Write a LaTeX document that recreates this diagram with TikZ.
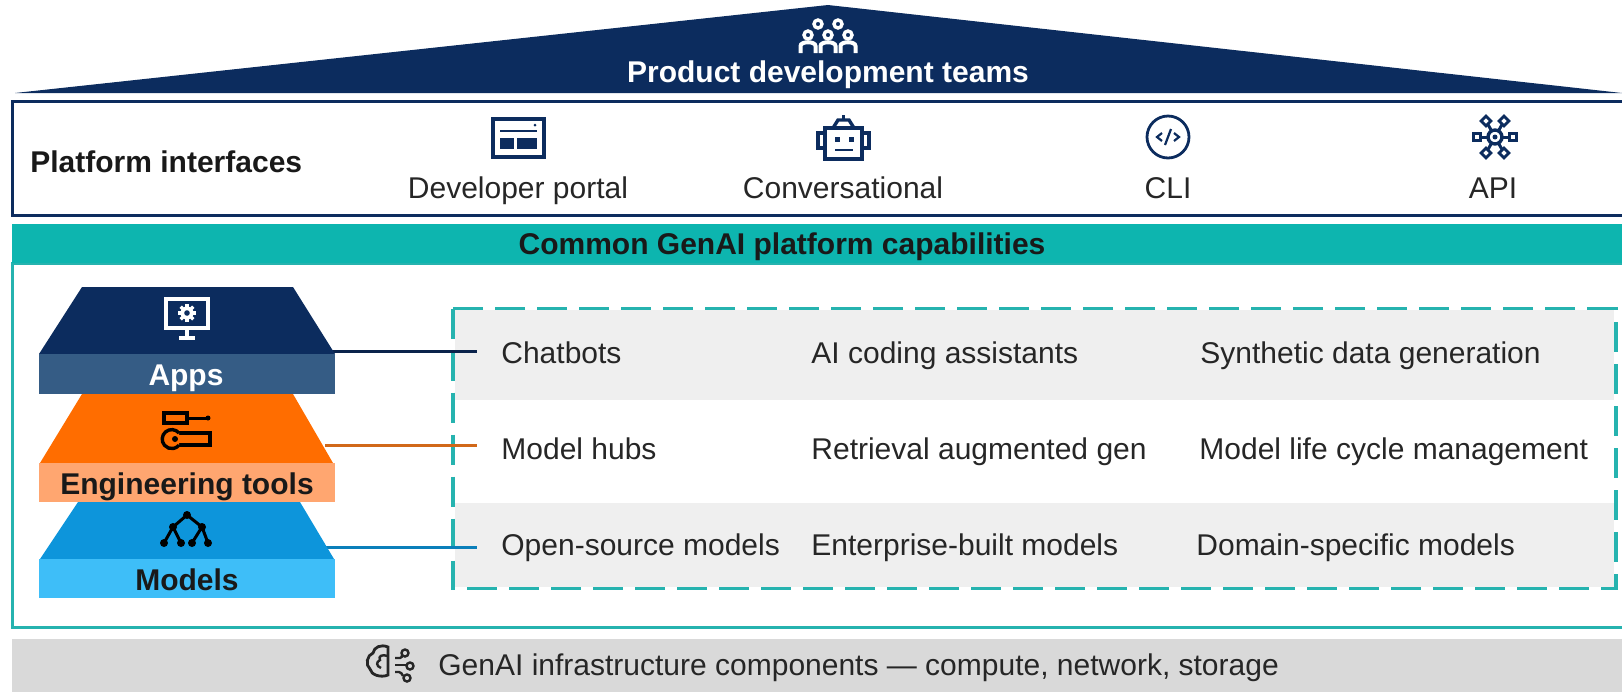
\documentclass[tikz,border=0pt]{standalone}
\usepackage{fontspec}
\setmainfont{Liberation Sans}
\usetikzlibrary{calc}
\definecolor{Navy}{HTML}{0C2C5E}
\definecolor{AppsBand}{HTML}{355C85}
\definecolor{Tools}{HTML}{FF6D00}
\definecolor{ToolsBand}{HTML}{FFA670}
\definecolor{Models}{HTML}{0D95DB}
\definecolor{ModelsBand}{HTML}{3EBEF8}
\definecolor{TealBar}{HTML}{0DB5AF}
\definecolor{TealLine}{HTML}{26B3AF}
\definecolor{RowGrey}{HTML}{EFEFEF}
\definecolor{InfraGrey}{HTML}{D9D9D9}
\definecolor{Ink}{HTML}{262626}
\def\RightEdge{1630}
\def\BoxLeft{12}
\def\RowLeft{455}
\def\RowRight{1614}
\def\ColA{501}
\def\ColB{811}
\def\ColC{1199}
\tikzset{
  body/.style={font=\fontsize{15pt}{18pt}\selectfont, text=Ink, inner sep=0pt, anchor=mid, yshift=-2.5pt},
  bodyleft/.style={body, anchor=mid west},
  head/.style={font=\fontsize{15pt}{18pt}\selectfont\bfseries, text=black!90, inner sep=0pt, anchor=mid, yshift=-2.5pt},
  icon/.style={Navy, line width=1.7pt},
  link/.style={line width=1.5pt}
}

\begin{document}
\begin{tikzpicture}[x=0.5pt,y=-0.5pt]
  \useasboundingbox (0,0) rectangle (1622,692);
  % roof
  \fill [Navy] (15,93) -- (828,5) -- (1622,93) -- cycle;
  \foreach \Hx/\Hy in {818/24,838/24,808/35,828/35,848/35} {
    \draw [white, line width=1.7pt, fill=Navy] (\Hx,\Hy) circle (4);
  }
  \foreach \Hx in {808,828,848} {
    \draw [white, line width=2pt] (\Hx-7.5,53) -- (\Hx-7.5,46) .. controls (\Hx-7.5,41) and (\Hx+7.5,41) .. (\Hx+7.5,46) -- (\Hx+7.5,53);
  }
  \node [head, text=white] (Teams) at (828,72) {Product development teams};
  % platform interfaces
  \draw [Navy, line width=1.5pt] (\BoxLeft,101) rectangle (\RightEdge,215);
  \node [head, anchor=mid west] (Interfaces) at (30,162) {Platform interfaces};
  \node [body] (Portal) at (518,188) {Developer portal};
  \node [body] (Chat) at (843,188) {Conversational};
  \node [body] (Cli) at (1168,188) {CLI};
  \node [body] (Api) at (1493,188) {API};
  % portal icon
  \draw [icon] (493,119) rectangle (544,157);
  \draw [Navy, line width=0.8pt] (500,131) -- (537,131);
  \fill [Navy] (535,125) circle (1.5);
  \fill [Navy] (500,138) rectangle (514,149);
  \fill [Navy] (517,138) rectangle (537,149);
  % robot icon
  \draw [icon] (825,128) rectangle (862,159);
  \draw [icon] (825,133) -- (818,133) -- (818,148) -- (825,148);
  \draw [icon] (862,133) -- (869,133) -- (869,148) -- (862,148);
  \draw [icon] (833,128) -- (838,120) -- (849,120) -- (854,128);
  \draw [icon] (843.5,120) -- (843.5,115);
  \fill [Navy] (834.5,136.5) rectangle +(5,5);
  \fill [Navy] (848.5,136.5) rectangle +(5,5);
  \draw [Navy, line width=0.8pt] (835,150) -- (853,150);
  % cli icon
  \draw [icon, line width=1.4pt] (1168,137) circle (21);
  \draw [Navy, line width=1.1pt] (1162,133) -- (1157,137) -- (1162,141);
  \draw [Navy, line width=1.1pt] (1174,133) -- (1179,137) -- (1174,141);
  \draw [Navy, line width=1.1pt] (1171,129) -- (1165,145);
  % api icon
  \foreach \Dx/\Dy/\Rot in {-9/-16/45,9/-16/45,-18/0/0,18/0/0,-9/16/45,9/16/45} {
    \draw [Navy, line width=1.5pt] (1495,137) -- +(\Dx,\Dy);
    \draw [Navy, line width=1.4pt, fill=white, shift={(1495+\Dx,137+\Dy)}, rotate=\Rot] (-3.5,-3.5) rectangle (3.5,3.5);
  }
  \draw [icon, fill=white] (1495,137) circle (7);
  \fill [Navy] (1495,137) circle (2.5);
  % capabilities
  \draw [TealLine, line width=1.5pt] (\BoxLeft,263) rectangle (\RightEdge,627);
  \fill [TealBar] (\BoxLeft,224) rectangle (\RightEdge,263);
  \node [head] (Capabilities) at (782,244) {Common GenAI platform capabilities};
  % rows
  \fill [RowGrey] (\RowLeft,310) rectangle (\RowRight,400);
  \fill [RowGrey] (\RowLeft,503) rectangle (\RowRight,587);
  \draw [TealLine, line width=1.7pt, dash pattern=on 15pt off 6pt] (453,308.5) rectangle (1616,588.5);
  \node [bodyleft] (Chatbots) at (\ColA,353) {Chatbots};
  \node [bodyleft] (Coding) at (\ColB,353) {AI coding assistants};
  \node [bodyleft] (Synthetic) at (\ColC+1,353) {Synthetic data generation};
  \node [bodyleft] (Hubs) at (\ColA,449) {Model hubs};
  \node [bodyleft] (Retrieval) at (\ColB,449) {Retrieval augmented gen};
  \node [bodyleft] (Lifecycle) at (\ColC,449) {Model life cycle management};
  \node [bodyleft] (OpenSource) at (\ColA,545) {Open-source models};
  \node [bodyleft] (Enterprise) at (\ColB,545) {Enterprise-built models};
  \node [bodyleft] (Domain) at (\ColC-3,545) {Domain-specific models};
  % links
  \coordinate (AppsLink) at (330,351.5);
  \coordinate (AppsEnd) at (477,351.5);
  \coordinate (ToolsLink) at (325,445);
  \coordinate (ToolsEnd) at (477,445);
  \coordinate (ModelsLink) at (325,547);
  \coordinate (ModelsEnd) at (477,547);
  \draw [link, Navy!80!black] (AppsLink) -- (AppsEnd);
  \draw [link, Tools!80!black!90] (ToolsLink) -- (ToolsEnd);
  \draw [link, Models!85!black] (ModelsLink) -- (ModelsEnd);
  % stack
  \fill [Navy] (82,287) -- (293,287) -- (335,354) -- (39,354) -- cycle;
  \fill [AppsBand] (39,354) rectangle (335,394);
  \fill [Tools] (82,394) -- (293,394) -- (333,463) -- (40,463) -- cycle;
  \fill [ToolsBand] (39,463) rectangle (335,502);
  \fill [Models] (78,502) -- (300,502) -- (334,559) -- (40,559) -- cycle;
  \fill [ModelsBand] (39,559) rectangle (335,598);
  \node [head, text=white] (Apps) at (186,375) {Apps};
  \node [head] (Tooling) at (187,484) {Engineering tools};
  \node [head] (ModelStack) at (187,580) {Models};
  % monitor icon
  \draw [white, line width=1.7pt] (166,299) rectangle (208,328);
  \draw [white, line width=1.7pt] (187,328) -- (187,337);
  \draw [white, line width=1.7pt] (179,338) -- (195,338);
  \foreach \Ang in {0,45,...,315} {
    \draw [white, line width=1.6pt] (187,313) -- +(\Ang:9);
  }
  \fill [white] (187,313) circle (6.5);
  \fill [Navy] (187,313) circle (2.8);
  % tools icon
  \draw [black, line width=1.7pt] (164,413) rectangle (187,423);
  \draw [black, line width=1.5pt] (187,418) -- (208,418);
  \fill [black] (208,418) circle (2.5);
  \draw [black, line width=1.7pt] (179,433) -- (210,433) -- (210,445) -- (179,445);
  \draw [black, line width=1.7pt, fill=Tools] (179,433) arc [start angle=-40, end angle=-320, radius=9.5];
  \fill [black] (175,439) circle (3);
  % tree icon
  \foreach \Kx/\Ky/\Px/\Py in {173/527/187/515,202/527/187/515,164/543/173/527,181/543/173/527,192/543/202/527,208/543/202/527} {
    \draw [black, line width=1.5pt] (\Kx,\Ky) -- (\Px,\Py);
    \fill [black] (\Kx,\Ky) circle (4);
  }
  \fill [black] (187,515) circle (4);
  % infrastructure
  \fill [InfraGrey] (\BoxLeft,639) rectangle (\RightEdge,692);
  \node [bodyleft] (Infra) at (438,665) {GenAI infrastructure components — compute, network, storage};
  % brain icon
  \draw [Ink, line width=1.4pt] (388,647) .. controls (381,644) and (374,647) .. (373,653)
    .. controls (367,655) and (365,665) .. (370,669) .. controls (371,675) and (381,678) .. (388,675) -- cycle;
  \draw [Ink, line width=1.2pt] (388,656) .. controls (382,654) and (378,656) .. (380,660) .. controls (376,662) and (376,666) .. (381,668);
  \draw [Ink, line width=1.2pt] (395,658) -- (400,658) .. controls (402,658) and (402,656) .. (402,655);
  \draw [Ink, line width=1.2pt] (395,665) -- (406,665);
  \draw [Ink, line width=1.2pt] (395,672) -- (399,672) .. controls (401,672) and (402,674) .. (403,676);
  \draw [Ink, line width=1.2pt] (405,653) circle (3.5);
  \draw [Ink, line width=1.2pt] (410,666) circle (3.5);
  \draw [Ink, line width=1.2pt] (407,678) circle (3.5);
\end{tikzpicture}
\end{document}
